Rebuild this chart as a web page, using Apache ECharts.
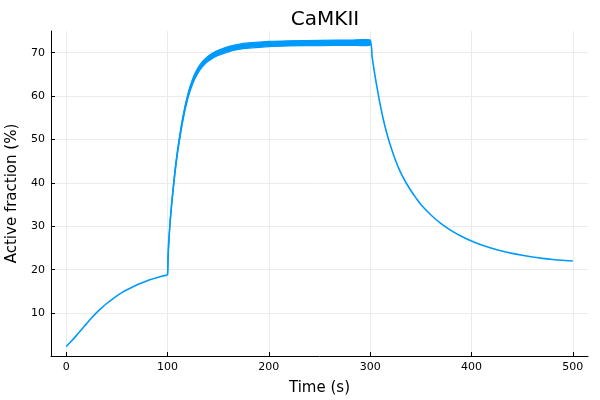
<!DOCTYPE html>
<html>
<head>
<meta charset="utf-8">
<script src="https://cdn.jsdelivr.net/npm/echarts@6/dist/echarts.min.js"></script>
<style>html,body{margin:0;padding:0;background:#fff}#c{width:600px;height:400px}</style>
</head>
<body>
<div id="c"></div>
<script>
// Main trace (center of the oscillating band between 100 s and 300 s)
var times = [0,5,10,15,20,25,30,35,40,45,50,55,60,65,70,75,80,85,90,95,100,
  100.5,101,102,103,104,106,108,110,112,115,118,120,122,125,
  130,135,140,145,150,160,170,180,190,200,220,250,280,300,
  302,304,306,308,310,313,316,320,325,330,335,340,345,350,
  360,370,380,390,400,410,420,430,440,450,460,470,480,490,500];
var values = [2.3,3.5,4.8,6.15,7.5,8.85,10.1,11.2,12.2,13.1,13.95,14.7,15.35,15.95,16.5,17.0,17.45,17.85,18.2,18.55,18.9,
  23.5,25.8,29.2,32.2,34.9,39.6,43.8,47.4,50.5,54.6,58.0,59.9,61.5,63.5,
  65.9,67.5,68.6,69.4,69.95,70.8,71.35,71.65,71.85,72.0,72.15,72.25,72.3,72.35,
  68.9,65.8,63.0,60.4,57.9,54.6,51.8,48.6,45.2,42.4,40.2,38.3,36.6,35.0,
  32.6,30.6,29.0,27.7,26.6,25.7,24.95,24.3,23.75,23.3,22.9,22.6,22.35,22.15,22.0];
// Envelope of the fast oscillation during stimulation
var bandTimes = [100,102,104,106,108,110,115,120,125,130,135,140,145,150,160,170,180,200,220,250,280,300];
var bandHigh  = [18.9,29.35,35.1,39.9,44.15,47.8,55.1,60.45,64.1,66.5,68.1,69.2,70.0,70.55,71.4,71.95,72.25,72.6,72.75,72.85,72.9,72.95];
var bandLow   = [18.9,29.05,34.7,39.3,43.45,47.0,54.1,59.35,62.9,65.3,66.9,68.0,68.8,69.35,70.2,70.75,71.05,71.4,71.55,71.65,71.7,71.75];
var xTicks = [0,100,200,300,400,500];
var yTicks = [10,20,30,40,50,60,70];

var COLOR = '#009afa';
var FONT = 'DejaVu Sans';
var chart = echarts.init(document.getElementById('c'), null, {renderer:'canvas'});
var lineData = times.map(function(t,i){return [t, values[i]];});

chart.setOption({
  animation: false,
  backgroundColor: '#fff',
  title: {
    text: 'CaMKII', left: 320, top: 5, textAlign: 'center',
    textStyle: {fontFamily: FONT, fontSize: 20, fontWeight: 'normal', color: '#000'}
  },
  grid: {left: 51, right: 12, top: 31, bottom: 44, containLabel: false, outerBoundsMode: 'none'},
  xAxis: {
    type: 'value', min: -15, max: 515,
    name: 'Time (s)', nameLocation: 'middle', nameGap: 25,
    nameTextStyle: {fontFamily: FONT, fontSize: 15, color: '#000'},
    axisLine: {show: true, onZero: false, lineStyle: {color: '#000', width: 1}},
    axisTick: {show: true, inside: true, length: 4, customValues: xTicks, lineStyle: {color: '#000'}},
    axisLabel: {customValues: xTicks, fontFamily: FONT, fontSize: 11, color: '#000', margin: 6},
    splitLine: {show: true, lineStyle: {color: '#ebebeb', width: 1}}
  },
  yAxis: {
    type: 'value', min: 0.1, max: 75,
    name: 'Active fraction (%)', nameLocation: 'middle', nameGap: 30, nameRotate: 90,
    nameTextStyle: {fontFamily: FONT, fontSize: 15, color: '#000'},
    axisLine: {show: true, onZero: false, lineStyle: {color: '#000', width: 1}},
    axisTick: {show: true, inside: true, length: 4, customValues: yTicks, lineStyle: {color: '#000'}},
    axisLabel: {customValues: yTicks, fontFamily: FONT, fontSize: 11, color: '#000', margin: 6},
    splitLine: {show: true, lineStyle: {color: '#ebebeb', width: 1}}
  },
  series: [
    {
      type: 'custom',
      data: [0],
      silent: true,
      renderItem: function(params, api) {
        var pts = [];
        for (var i = 0; i < bandTimes.length; i++) pts.push(api.coord([bandTimes[i], bandHigh[i]]));
        for (var j = bandTimes.length - 1; j >= 0; j--) pts.push(api.coord([bandTimes[j], bandLow[j]]));
        return {type: 'polygon', shape: {points: pts, smooth: 0.25},
          style: {fill: COLOR, stroke: COLOR, lineWidth: 1.2}};
      },
      z: 2
    },
    {
      type: 'line', data: lineData, showSymbol: false, symbol: 'none',
      smooth: 0.3,
      lineStyle: {color: COLOR, width: 1.6}, z: 3
    }
  ]
});
</script>
</body>
</html>
